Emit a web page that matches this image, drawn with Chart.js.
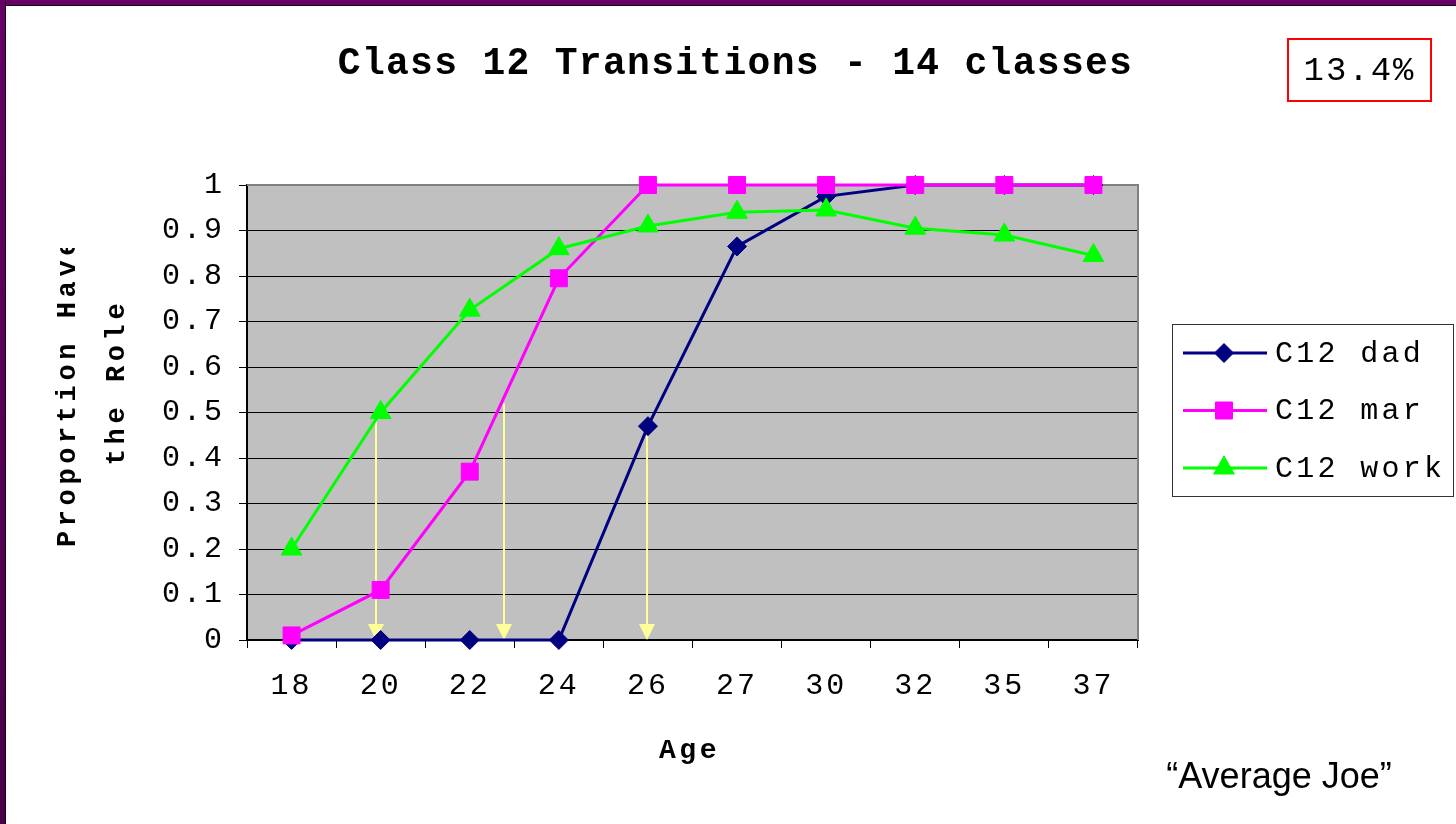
<!DOCTYPE html>
<html>
<head>
<meta charset="utf-8">
<title>Class 12 Transitions - 14 classes</title>
<script src="https://cdn.jsdelivr.net/npm/chart.js@4.4.1/dist/chart.umd.min.js"></script>
<style>
  html, body { margin: 0; padding: 0; background: #fff; }
  #wrap { position: relative; width: 1456px; height: 824px; overflow: hidden; background: #fff; }
  #myChart { position: absolute; left: 0; top: 0; }
  .frameTop { position: absolute; left: 0; top: 0; width: 1456px; height: 5px; background: #660066; border-bottom: 1px solid #1a001a; }
  .frameLeft { position: absolute; left: 0; top: 0; width: 5px; height: 824px; background: linear-gradient(#660066, #480046); border-right: 1px solid #1a001a; }
  .title { position: absolute; left: 0; width: 1471px; top: 42px; text-align: center;
           font: bold 38px "Liberation Mono", "Courier New", monospace; line-height: 44px;
           letter-spacing: 1.3px; color: #000; white-space: pre; }
  .rate { position: absolute; left: 1287px; top: 38px; width: 145px; height: 64px; box-sizing: border-box;
          border: 2px solid #ff0000; text-align: center;
          font: 34px "Liberation Mono", "Courier New", monospace; line-height: 62px;
          letter-spacing: 2px; color: #000; }
  .joe { position: absolute; left: 1100px; width: 358px; top: 754px; text-align: center;
         font: 36px "Liberation Sans", Arial, sans-serif; line-height: 44px; color: #000; }
</style>
</head>
<body>
<div id="wrap">
  <canvas id="myChart" width="1456" height="824"></canvas>
  <div class="frameTop"></div>
  <div class="frameLeft"></div>
  <div class="title">Class 12 Transitions - 14 classes</div>
  <div class="rate">13.4%</div>
  <div class="joe">“Average Joe”</div>
</div>
<script>
// data
const ages = ['18', '20', '22', '24', '26', '27', '30', '32', '35', '37'];
const dadValues = [0, 0, 0, 0, 0.47, 0.865, 0.975, 1, 1, 1];
const marValues = [0.01, 0.11, 0.37, 0.795, 1, 1, 1, 1, 1, 1];
const workValues = [0.2, 0.5, 0.725, 0.86, 0.91, 0.94, 0.945, 0.905, 0.89, 0.845];
const yTickLabels = ['0', '0.1', '0.2', '0.3', '0.4', '0.5', '0.6', '0.7', '0.8', '0.9', '1'];

// yellow arrows: where they sit on the age axis (category index) and the value they drop from
const arrowAt = [0.95, 2.38, 3.99];
const arrowFrom = [0.5, 0.52, 0.47];

const mono = '"Liberation Mono", "Courier New", monospace';

// plot background, frame, arrows, legend and axis titles
const extras = {
  id: 'extras',
  beforeDraw(chart) {
    const ctx = chart.ctx, a = chart.chartArea;
    ctx.save();
    ctx.fillStyle = '#c0c0c0';
    ctx.fillRect(a.left, a.top, a.right - a.left, a.bottom - a.top);
    ctx.restore();
    // wide courier look for the tick labels
    ctx.letterSpacing = '3px';
  },
  beforeDatasetsDraw(chart) {
    const ctx = chart.ctx, a = chart.chartArea;
    const xs = chart.scales.x, ys = chart.scales.y;
    ctx.save();
    ctx.strokeStyle = '#808080';
    ctx.lineWidth = 2;
    ctx.beginPath();
    ctx.moveTo(a.left, a.top);
    ctx.lineTo(a.right, a.top);
    ctx.lineTo(a.right, a.bottom);
    ctx.stroke();

    ctx.strokeStyle = '#ffff99';
    ctx.fillStyle = '#ffff99';
    ctx.lineWidth = 2;
    for (let i = 0; i < arrowAt.length; i++) {
      const x = Math.round(xs.getPixelForValue(arrowAt[i]));
      const y1 = ys.getPixelForValue(arrowFrom[i]);
      const y2 = ys.getPixelForValue(0);
      ctx.beginPath();
      ctx.moveTo(x, y1);
      ctx.lineTo(x, y2 - 12);
      ctx.stroke();
      ctx.beginPath();
      ctx.moveTo(x - 8, y2 - 16);
      ctx.lineTo(x + 8, y2 - 16);
      ctx.lineTo(x, y2);
      ctx.closePath();
      ctx.fill();
    }
    ctx.restore();
  },
  afterDraw(chart) {
    const ctx = chart.ctx, a = chart.chartArea;
    ctx.save();

    // legend
    const lx = a.right + 34, ly = 324, lw = 281, lh = 172;
    ctx.strokeStyle = '#333';
    ctx.lineWidth = 1;
    ctx.strokeRect(lx + 0.5, ly + 0.5, lw, lh);
    chart.data.datasets.forEach((ds, i) => {
      const cy = ly + 29 + i * 57.5;
      ctx.strokeStyle = ds.borderColor;
      ctx.lineWidth = 3;
      ctx.beginPath();
      ctx.moveTo(lx + 11, cy);
      ctx.lineTo(lx + 95, cy);
      ctx.stroke();
      ctx.fillStyle = ds.borderColor;
      ctx.lineWidth = 1;
      Chart.helpers.drawPoint(ctx, {
        pointStyle: ds.pointStyle, radius: ds.pointRadius, rotation: 0, borderWidth: 1
      }, lx + 52, cy);
      ctx.fillStyle = '#000';
      ctx.font = '30px ' + mono;
      ctx.letterSpacing = '3.3px';
      ctx.textAlign = 'left';
      ctx.textBaseline = 'middle';
      ctx.fillText(ds.label, lx + 103, cy + 1);
    });

    // x title
    ctx.fillStyle = '#000';
    ctx.font = 'bold 28px ' + mono;
    ctx.letterSpacing = '3.5px';
    ctx.textAlign = 'center';
    ctx.textBaseline = 'middle';
    ctx.fillText('Age', (a.left + a.right) / 2 - 3, 751);

    // y title, two lines, the first one cut at the top like the original
    ctx.beginPath();
    ctx.rect(0, 248, 240, 576);
    ctx.clip();
    ctx.font = 'bold 27px ' + mono;
    ctx.letterSpacing = '4.6px';
    ctx.save();
    ctx.translate(68, 391);
    ctx.rotate(-Math.PI / 2);
    ctx.fillText('Proportion Have', 0, 0);
    ctx.restore();
    ctx.save();
    ctx.translate(117, 382);
    ctx.rotate(-Math.PI / 2);
    ctx.fillText('the Role', 0, 0);
    ctx.restore();

    ctx.restore();
  }
};

new Chart('myChart', {
  type: 'line',
  data: {
    labels: ages,
    datasets: [{
      label: 'C12 dad',
      data: dadValues,
      borderColor: '#000080',
      backgroundColor: '#000080',
      pointBackgroundColor: '#000080',
      pointBorderColor: '#000080',
      pointStyle: 'rectRot',
      pointRadius: 9.5,
      pointHoverRadius: 9.5,
      pointBorderWidth: 1,
      borderWidth: 3,
      tension: 0,
      clip: false,
      order: 3
    }, {
      label: 'C12 mar',
      data: marValues,
      borderColor: '#ff00ff',
      backgroundColor: '#ff00ff',
      pointBackgroundColor: '#ff00ff',
      pointBorderColor: '#ff00ff',
      pointStyle: 'rect',
      pointRadius: 12,
      pointHoverRadius: 12,
      pointBorderWidth: 1,
      borderWidth: 3,
      tension: 0,
      clip: false,
      order: 2
    }, {
      label: 'C12 work',
      data: workValues,
      borderColor: '#00ff00',
      backgroundColor: '#00ff00',
      pointBackgroundColor: '#00ff00',
      pointBorderColor: '#00ff00',
      pointStyle: 'triangle',
      pointRadius: 12,
      pointHoverRadius: 12,
      pointBorderWidth: 1,
      borderWidth: 3,
      tension: 0,
      clip: false,
      order: 1
    }]
  },
  options: {
    responsive: false,
    animation: false,
    devicePixelRatio: 1,
    layout: { padding: { left: 0, top: 185, right: 318, bottom: 84 } },
    plugins: {
      legend: { display: false },
      tooltip: { enabled: false },
      title: { display: false }
    },
    scales: {
      x: {
        offset: true,
        grid: { offset: true, drawOnChartArea: false, drawTicks: true, tickLength: 8, color: '#000', lineWidth: 1 },
        border: { display: true, color: '#000', width: 2 },
        ticks: { color: '#000', font: { family: mono, size: 30 }, padding: 20, autoSkip: false, maxRotation: 0 },
        afterFit(s) { s.height = 100; }
      },
      y: {
        min: 0,
        max: 1,
        grid: {
          color: (c) => (c.tick && c.tick.value === 1 ? '#808080' : '#000'),
          tickColor: '#000',
          tickLength: 8,
          lineWidth: 1
        },
        border: { display: true, color: '#000', width: 2 },
        ticks: {
          stepSize: 0.1,
          color: '#000',
          font: { family: mono, size: 30 },
          padding: 14,
          callback: (v, i) => yTickLabels[i]
        },
        afterFit(s) { s.width = 247; }
      }
    }
  },
  plugins: [extras]
});
</script>
</body>
</html>
